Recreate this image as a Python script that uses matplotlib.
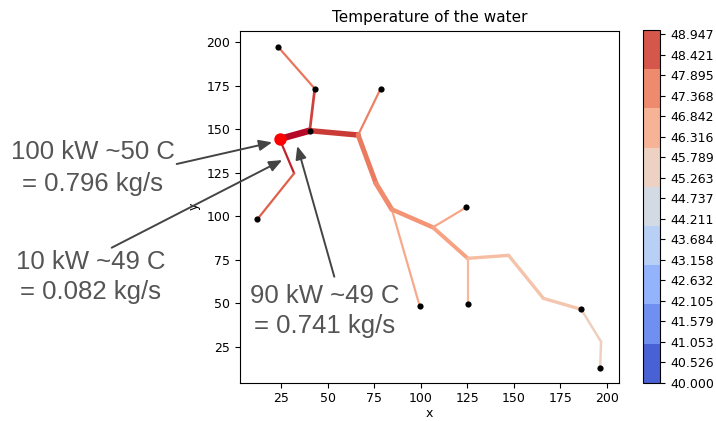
import numpy as np
import matplotlib
matplotlib.use("Agg")
import matplotlib.pyplot as plt
from matplotlib.collections import LineCollection
from matplotlib.colors import ListedColormap, BoundaryNorm, Normalize
import matplotlib.cm as cm

# ---- data ----
node_x = [23.3, 43.1, 78.5, 40.4, 24.2, 66.4, 32.0, 12.2, 76.0, 84.5,
          99.5, 106.6, 124.4, 125.3, 125.3, 147.3, 166.0, 186.3, 197.0, 196.5]
node_y = [197.3, 173.2, 173.2, 149.1, 144.3, 146.6, 124.6, 98.2, 118.8, 103.9,
          48.4, 93.6, 105.0, 75.8, 49.3, 77.5, 52.8, 46.5, 27.9, 12.9]
dot_nodes = [0, 1, 2, 3, 7, 10, 12, 14, 17, 19]
source_node = 4

pipe_from = [4, 4, 6, 3, 1, 3, 5, 5, 8, 9, 9, 11, 11, 13, 13, 15, 16, 17, 18]
pipe_to   = [3, 6, 7, 1, 0, 5, 2, 8, 9, 10, 11, 12, 13, 14, 15, 16, 17, 18, 19]
pipe_temp = [49.0, 48.8, 47.9, 48.4, 47.5, 48.5, 47.3, 47.4, 47.1, 46.4,
             46.9, 46.5, 46.6, 46.0, 45.9, 45.7, 45.6, 45.3, 45.2]
pipe_mdot = [0.741, 0.082, 0.082, 0.16, 0.08, 0.58, 0.08, 0.50, 0.50, 0.08,
             0.42, 0.08, 0.34, 0.08, 0.25, 0.25, 0.25, 0.12, 0.12]

t_min, t_max = 40.0, 49.05
cbar_ticks = [40 + k * 10 / 19 for k in range(18)]
band_colors = ["#4862d6", "#6f90f0", "#93b3fc", "#b8cff6", "#d4dae3",
               "#edd1c2", "#f7b396", "#ee8b6f", "#d5564a"]

annotations = [
    ("100 kW ~50 C", "= 0.796 kg/s", (93, 159.3), (92, 190.7), (176.7, 164.0), (20.2, 142.4)),
    ("10 kW ~49 C", "= 0.082 kg/s", (90.5, 268.6), (90.5, 299.0), (111.7, 247.7), (25.6, 132.2)),
    ("90 kW ~49 C", "= 0.741 kg/s", (324.5, 302.6), (324.5, 333.3), (334.3, 276.7), (33.7, 140.3)),
]

# ---- figure ----
W, H = 716, 421
fig = plt.figure(figsize=(W / 100, H / 100), dpi=100)
ax = fig.add_axes([240 / W, 1 - 382.5 / H, (619.3 - 240) / W, (382.5 - 30.7) / H])

segs = [[(node_x[a], node_y[a]), (node_x[b], node_y[b])] for a, b in zip(pipe_from, pipe_to)]
widths = [(1.7 + 6.5 * m) * 0.72 for m in pipe_mdot]
lc = LineCollection(segs, cmap="coolwarm", norm=Normalize(t_min, t_max),
                    linewidths=widths, capstyle="round", joinstyle="round", zorder=2)
lc.set_array(np.array(pipe_temp))
ax.add_collection(lc)

ax.scatter([node_x[i] for i in dot_nodes], [node_y[i] for i in dot_nodes],
           s=20, color="black", zorder=3, linewidths=0)
ax.scatter([node_x[source_node]], [node_y[source_node]], s=80, color="#ff0000",
           zorder=4, linewidths=0)

ax.set_xlim(2.9, 206.8)
ax.set_ylim(4.5, 206.5)
ax.set_xticks([25, 50, 75, 100, 125, 150, 175, 200])
ax.set_yticks([25, 50, 75, 100, 125, 150, 175, 200])
ax.tick_params(labelsize=9)
ax.set_xlabel("x", fontsize=9, labelpad=1)
ax.set_ylabel("y", fontsize=9)
ax.set_title("Temperature of the water", fontsize=11)

# colorbar
cax = fig.add_axes([642.7 / W, 1 - 382.7 / H, 17.6 / W, 352.7 / H])
bnorm = BoundaryNorm(np.linspace(t_min, t_max, len(band_colors) + 1), len(band_colors))
sm = cm.ScalarMappable(norm=bnorm, cmap=ListedColormap(band_colors))
cb = fig.colorbar(sm, cax=cax, ticks=cbar_ticks, format="%.3f")
cb.ax.minorticks_off()
cb.ax.tick_params(labelsize=9)

# annotations
for l1, l2, p1, p2, tail, head in annotations:
    for txt, (px, py) in ((l1, p1), (l2, p2)):
        fig.text(px / W, 1 - py / H, txt, ha="center", va="baseline",
                 fontsize=18.5, family="Liberation Sans", color="#555555")
    ax.annotate("", xy=head, xycoords="data",
                xytext=(tail[0], H - tail[1]), textcoords="figure pixels",
                arrowprops=dict(arrowstyle="-|>,head_length=0.6,head_width=0.25",
                                mutation_scale=13, color="#444444", lw=1.4,
                                shrinkA=0, shrinkB=0),
                annotation_clip=False, zorder=5)

fig.savefig("out.png", dpi=100)
